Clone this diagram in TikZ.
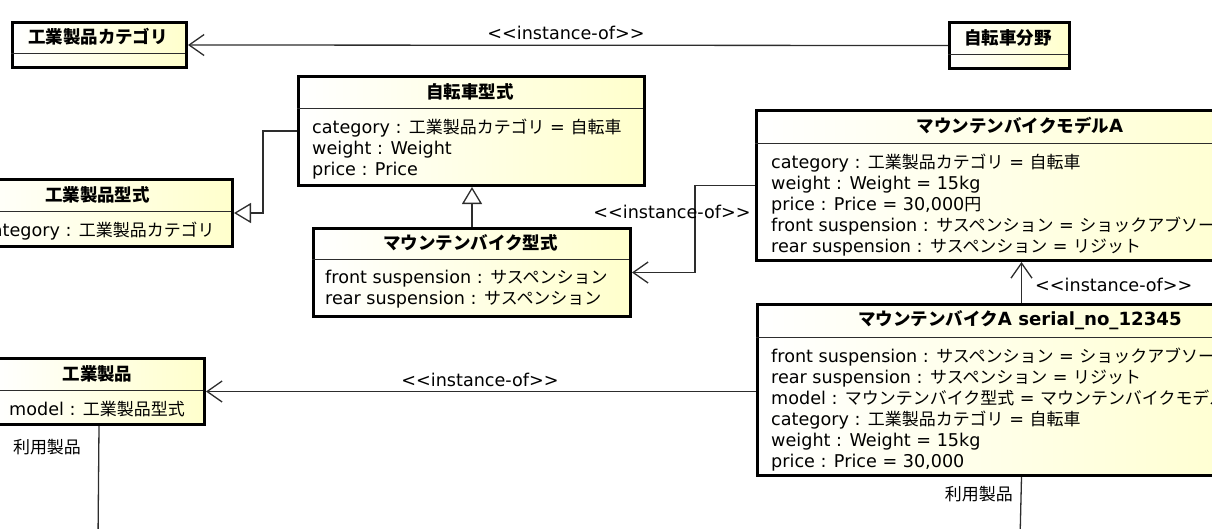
\documentclass[tikz,border=0pt]{standalone}
\usepackage{fontspec}
\setmainfont{DejaVu Sans}[Scale=1.1]
\newfontfamily\jpfont{Noto Sans CJK JP}[Scale=1.06]
\usetikzlibrary{arrows.meta, positioning, calc}

\definecolor{BoxColor}{RGB}{255,255,204}
\definecolor{LineColor}{RGB}{45,45,45}

% Japanese characters are set in the CJK font
\XeTeXinterchartokenstate=1
\chardef\JpClass=7
\newcount\jpcode
\newcommand{\jprange}[2]{\jpcode=#1\relax
  \loop\XeTeXcharclass\jpcode=\JpClass
  \ifnum\jpcode<#2\relax\advance\jpcode by 1\repeat}
\jprange{"3000}{"30FF}
\jprange{"4E00}{"9FFF}
\jprange{"FF00}{"FFEF}
\XeTeXinterchartoks 0 \JpClass = {\jpfont}
\XeTeXinterchartoks 4095 \JpClass = {\jpfont}
\XeTeXinterchartoks \JpClass 0 = {\rmfamily}
\XeTeXinterchartoks \JpClass 4095 = {\rmfamily}

\newcommand{\stereo}[1]{<{}<#1>{}>}
\tikzstyle{classbox} = [rectangle, draw=black, line width=3pt, left color=white, right color=BoxColor, anchor=north west, inner sep=0pt]
\tikzstyle{classname} = [font=\fontsize{16.5}{21}\selectfont\bfseries, inner sep=0pt]
\tikzstyle{attrs} = [align=left, anchor=north west, inner sep=0pt]
\tikzstyle{divider} = [line width=1pt, LineColor]
\tikzstyle{instof} = [line width=1.3pt, LineColor, -{Straight Barb[length=15pt, width=21pt]}]
\tikzstyle{extends} = [line width=1.3pt, LineColor, -{Triangle[open, length=17pt, width=20pt]}]
\tikzstyle{assoc} = [line width=1.3pt, LineColor]
\tikzstyle{lbl} = [inner sep=0pt]

% name, left, top, right, divider, bottom, title
\newcommand{\umlclass}[7]{%
  \node[classbox, minimum width={#4-(#2)}, minimum height={#6-(#3)}] (#1) at (#2,#3) {};
  \draw[divider] (#2,#5) -- (#4,#5);
  \node[classname] (#1-name) at ({(#2+#4)/2},{(#3+#5)/2}) {#7};}

\begin{document}
\begin{tikzpicture}[x=1pt, y=-1pt, font=\fontsize{16}{21}\selectfont]
  \useasboundingbox (0,0) rectangle (1212,528);
  \clip (0,0) rectangle (1212,528);

  % classes
  \umlclass{catType}{11}{21}{185}{53}{66}{工業製品カテゴリ}
  \umlclass{bikeField}{948}{21}{1068}{54}{67}{自転車分野}
  \umlclass{bikeType}{297}{75}{643}{108}{184}{自転車型式}
  \umlclass{prodType}{-36}{178}{231}{211}{245}{工業製品型式}
  \umlclass{mtbType}{312}{227}{629}{259}{315}{マウンテンバイク型式}
  \umlclass{modelA}{755}{109}{1285}{143}{259}{マウンテンバイクモデルA}
  \umlclass{serial}{756}{303}{1284}{337}{474}{マウンテンバイクA serial\_no\_12345}
  \umlclass{product}{-8}{357}{203}{390}{423}{工業製品}

  % attributes
  \node[attrs] (bikeType-attrs) at (312,119) {category : 工業製品カテゴリ = 自転車\\weight : Weight\\price : Price};
  \node[attrs] (prodType-attrs) at (-18,222) {category : 工業製品カテゴリ};
  \node[attrs] (mtbType-attrs) at (325,270) {front suspension : サスペンション\\rear suspension : サスペンション};
  \node[attrs] (modelA-attrs) at (771,154) {category : 工業製品カテゴリ = 自転車\\weight : Weight = 15kg\\price : Price = 30,000円\\front suspension : サスペンション = ショックアブソーバー\\rear suspension : サスペンション = リジット};
  \node[attrs] (serial-attrs) at (771,348) {front suspension : サスペンション = ショックアブソーバー\\rear suspension : サスペンション = リジット\\model : マウンテンバイク型式 = マウンテンバイクモデルA\\category : 工業製品カテゴリ = 自転車\\weight : Weight = 15kg\\price : Price = 30,000};
  \node[attrs] (product-attrs) at (9,401) {model : 工業製品型式};

  % generalization
  \draw[extends] (mtbType.north) -- (mtbType.north |- bikeType.south);
  \draw[extends] (bikeType.west) -- ++(-34,0) |- (prodType.east);

  % instance-of
  \draw[instof] (bikeField.west) -- (catType.east);
  \draw[instof] (modelA.west) -- ++(-60,0) |- (mtbType.east);
  \draw[instof] (serial.north) -- (modelA.south);
  \draw[instof] (serial.west |- product.east) -- (product.east);
  \node[lbl] (instTop) at (566,33) {\stereo{instance-of}};
  \node[lbl] (instMid) at (672,212) {\stereo{instance-of}};
  \node[lbl, anchor=west] (instModel) at (1035,285) {\stereo{instance-of}};
  \node[lbl] (instProd) at (480,380) {\stereo{instance-of}};

  % usage
  \coordinate (prodEnd) at (98,540);
  \coordinate (serialEnd) at (1020,540);
  \draw[assoc] (product.south) -- (prodEnd);
  \draw[assoc] (serial.south) -- (serialEnd);
  \node[lbl] (useLeft) at (47,447) {利用製品};
  \node[lbl, anchor=east] (useRight) at (1013,494) {利用製品};
\end{tikzpicture}
\end{document}
